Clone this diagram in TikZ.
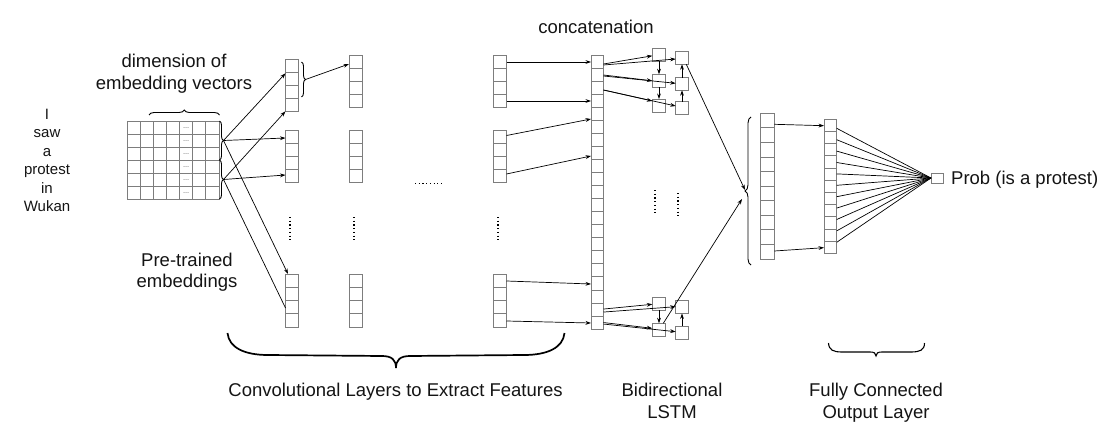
\documentclass[tikz,border=0pt]{standalone}
\usepackage{fontspec}
\setmainfont{Liberation Sans}
\usetikzlibrary{arrows.meta,decorations.pathreplacing,calc}
\definecolor{boxgray}{RGB}{125,125,125}
\definecolor{textblack}{RGB}{20,20,20}
\newcommand{\cellcol}[6]{%
  \node[cellbox, minimum width=#4pt, minimum height=#5*#6pt] (#1) at (#2,#3) {};
  \foreach \k in {1,...,#6} \draw[draw=boxgray, line width=0.8pt] (#2,#3+\k*#5) -- ++(#4,0);
}
\begin{document}
\begin{tikzpicture}[x=1pt,y=-1pt,
  cellbox/.style={draw=boxgray, line width=0.8pt, inner sep=0pt, outer sep=0pt, anchor=north west},
  arr/.style={-{Stealth[length=5.5pt,width=3.8pt]}, line width=0.7pt},
  conn/.style={line width=0.7pt},
  lbl/.style={font=\fontsize{18.5}{21.5}\selectfont, text=textblack, inner sep=0pt, anchor=base},
  word/.style={font=\fontsize{15}{18}\selectfont, text=textblack, inner sep=0pt, anchor=base},
  vdots/.style={line width=1.4pt, dash pattern=on 1.1pt off 2.6pt},
  brc/.style={decorate, line width=0.9pt}
]
\useasboundingbox (0,0) rectangle (1112,444);

% ---------- words ----------
\node[word] (w1) at (47,119) {I};
\node[word] (w2) at (47,137.6) {saw};
\node[word] (w3) at (47,156) {a};
\node[word] (w4) at (47,174.8) {protest};
\node[word] (w5) at (47,193.2) {in};
\node[word] (w6) at (47,211) {Wukan};

% ---------- embedding matrix ----------
\node[cellbox, minimum width=92pt, minimum height=78pt] (emb) at (127,121) {};
\foreach \k in {1,...,6} \draw[draw=boxgray, line width=0.8pt] (127+\k*13.143,121) -- ++(0,78);
\foreach \k in {1,...,5} \draw[draw=boxgray, line width=0.8pt] (127,121+\k*13) -- ++(92,0);
\foreach \k in {1,...,6} \node[font=\fontsize{7.5}{7.5}\selectfont, text=black!65, inner sep=0pt] (d\k) at (186.2,121+\k*13-5.5) {...};

\draw[brc, decoration={brace, amplitude=5pt}] (149,115) -- (219.5,115);
\draw[brc, decoration={brace, amplitude=4pt}] (219.5,121) -- (219.5,160);
\draw[brc, decoration={brace, amplitude=4pt}] (219.5,160) -- (219.5,199);
\coordinate (b1) at (223.5,140.5);
\coordinate (b2) at (223.5,179.5);

\node[lbl] (dimA) at (174,67.5) {dimension of};
\node[lbl] (dimB) at (174,89.5) {embedding vectors};
\node[lbl] (preA) at (187,266.5) {Pre-trained};
\node[lbl] (preB) at (187,287.5) {embeddings};

% ---------- convolution columns ----------
\cellcol{c1a}{285.5}{59.3}{13}{13}{4}
\cellcol{c1b}{285.5}{130}{13}{13}{4}
\cellcol{c1c}{285.5}{274}{13}{13.25}{4}
\cellcol{c2a}{349}{55}{13}{13}{4}
\cellcol{c2b}{349}{130}{13}{13}{4}
\cellcol{c2c}{349}{274}{13}{13.25}{4}
\cellcol{c3a}{493.5}{55}{13}{13}{4}
\cellcol{c3b}{493.5}{130}{13}{13}{4}
\cellcol{c3c}{493.5}{274}{13}{13.25}{4}

\draw[brc, decoration={brace, amplitude=4pt}] (301.5,62) -- (301.5,97);
\coordinate (bc) at (305.5,79.5);
\draw[arr] (bc) -- ([yshift=-9pt]c2a.north west);

\draw[arr] (b1) -- ([yshift=-14pt]c1a.north west);
\draw[arr] (b2) -- (c1a.south west);
\draw[arr] (b1) -- ([yshift=-8pt]c1b.north west);
\draw[arr] (b2) -- ([yshift=-45pt]c1b.north west);
\draw[arr] (b1) -- ([xshift=2.5pt]c1c.north west);
\draw[conn] (b2) -- ([yshift=-34pt]c1c.north west);

\draw[vdots] (290,217) -- (290,242);
\draw[vdots] (354,217) -- (354,242);
\draw[vdots] (498,217) -- (498,242);
\draw[vdots] (415,183.5) -- (441,183.5);

% ---------- concatenation ----------
\cellcol{cat}{591}{55}{12.5}{13.05}{21}
\node[lbl] (catlbl) at (596,33.3) {concatenation};

\draw[arr] ([yshift=-7pt]c3a.north east) -- ([yshift=-7pt]cat.north west);
\draw[arr] ([yshift=-46pt]c3a.north east) -- ([yshift=-46pt]cat.north west);
\draw[arr] ([yshift=-5.5pt]c3b.north east) -- ([yshift=-64pt]cat.north west);
\draw[arr] ([yshift=-44pt]c3b.north east) -- ([yshift=-101pt]cat.north west);
\draw[arr] ([yshift=-7pt]c3c.north east) -- ([yshift=-229pt]cat.north west);
\draw[arr] ([yshift=-47pt]c3c.north east) -- ([yshift=-268pt]cat.north west);

% ---------- LSTM ----------
\node[cellbox, minimum width=13.4pt, minimum height=13pt] (L1) at (652.3,48.3) {};
\node[cellbox, minimum width=13.4pt, minimum height=13pt] (L2) at (652.3,74.3) {};
\node[cellbox, minimum width=13.4pt, minimum height=13pt] (L3) at (652.3,99) {};
\node[cellbox, minimum width=12.6pt, minimum height=12.6pt] (R1) at (675.7,51.7) {};
\node[cellbox, minimum width=12.6pt, minimum height=12.6pt] (R2) at (675.7,77.7) {};
\node[cellbox, minimum width=12.6pt, minimum height=12.6pt] (R3) at (675.7,101.7) {};
\node[cellbox, minimum width=13.4pt, minimum height=12.8pt] (La) at (652.3,297.3) {};
\node[cellbox, minimum width=13.4pt, minimum height=12.8pt] (Lb) at (652.3,323.3) {};
\node[cellbox, minimum width=12.6pt, minimum height=12.8pt] (Ra) at (675.7,300.7) {};
\node[cellbox, minimum width=12.6pt, minimum height=13.2pt] (Rb) at (675.7,326) {};

\draw[arr] ([yshift=-9pt]cat.north east) -- ([yshift=-7.5pt]L1.north west);
\draw[arr] ([yshift=-10pt]cat.north east) -- ([yshift=-7.3pt]R1.north west);
\draw[arr] ([yshift=-20pt]cat.north east) -- ([yshift=-6.5pt]L2.north west);
\draw[arr] ([yshift=-21pt]cat.north east) -- ([yshift=-5.6pt]R2.north west);
\draw[arr] ([yshift=-35pt]cat.north east) -- ([yshift=-2pt]L3.north west);
\draw[arr] ([yshift=-35pt]cat.north east) -- ([yshift=-4.3pt]R3.north west);
\draw[arr] (L1.south) -- (L2.north);
\draw[arr] (L2.south) -- (L3.north);
\draw[arr] (R3.north) -- (R2.south);
\draw[arr] (R2.north) -- (R1.south);

\draw[arr] ([yshift=20pt]cat.south east) -- ([yshift=-7pt]La.north west);
\draw[arr] ([yshift=17pt]cat.south east) -- ([yshift=-6pt]Ra.north west);
\draw[arr] ([yshift=6.5pt]cat.south east) -- ([yshift=-5pt]Lb.north west);
\draw[arr] ([yshift=5pt]cat.south east) -- ([yshift=-5.7pt]Rb.north west);
\draw[arr] (La.south) -- (Lb.north);
\draw[arr] (Rb.north) -- (Ra.south);

\draw[vdots] (655,190) -- (655,215);
\draw[vdots] (678,193) -- (678,218);

% ---------- fully connected ----------
\draw[brc, decoration={brace, amplitude=6pt}] (751,265) -- (751,117);
\coordinate (fcb) at (745,192);
\draw[arr] ([xshift=-2pt]R1.south east) -- ([yshift=2pt]fcb);
\draw[arr] ([xshift=-2.4pt]Lb.north east) -- ([xshift=-3pt,yshift=-7pt]fcb);

\cellcol{fc1}{760.7}{113.3}{13.6}{14.57}{10}
\cellcol{fc2}{824}{119.3}{12.7}{12.18}{11}
\draw[arr] ([yshift=-11pt]fc1.north east) -- ([yshift=-6.4pt]fc2.north west);
\draw[arr] ([yshift=8pt]fc1.south east) -- ([yshift=5.6pt]fc2.south west);

\node[cellbox, minimum width=12pt, minimum height=10pt] (out) at (931,173) {};
\foreach \k in {0,...,10} \draw[conn] ([yshift=-9pt-\k*11.4pt]fc2.north east) -- (out.west);
\node[lbl, anchor=base west] (prob) at (951,184) {Prob (is a protest)};

% ---------- bottom braces and labels ----------
\draw[line width=1.7pt] (227.5,333) .. controls (229,348) and (245,355) .. (268,355) -- (382,356) .. controls (392,356) and (396,360) .. (396,368) .. controls (396,360) and (400,356) .. (410,356) -- (524,355) .. controls (547,355) and (563,348) .. (564.5,333);
\draw[line width=1.1pt] (828.5,343) .. controls (829,350) and (833,352) .. (842,352) -- (870,352) .. controls (874,352) and (876,353) .. (876,356) .. controls (876,353) and (878,352) .. (882,352) -- (911,352) .. controls (920,352) and (924.5,350) .. (924.5,343);

\node[lbl] (convlbl) at (395.5,396.7) {Convolutional Layers to Extract Features};
\node[lbl] (lstmA) at (672,396.7) {Bidirectional};
\node[lbl] (lstmB) at (672,418.3) {LSTM};
\node[lbl] (fcA) at (876,396.7) {Fully Connected};
\node[lbl] (fcB) at (876,418.3) {Output Layer};
\end{tikzpicture}
\end{document}
